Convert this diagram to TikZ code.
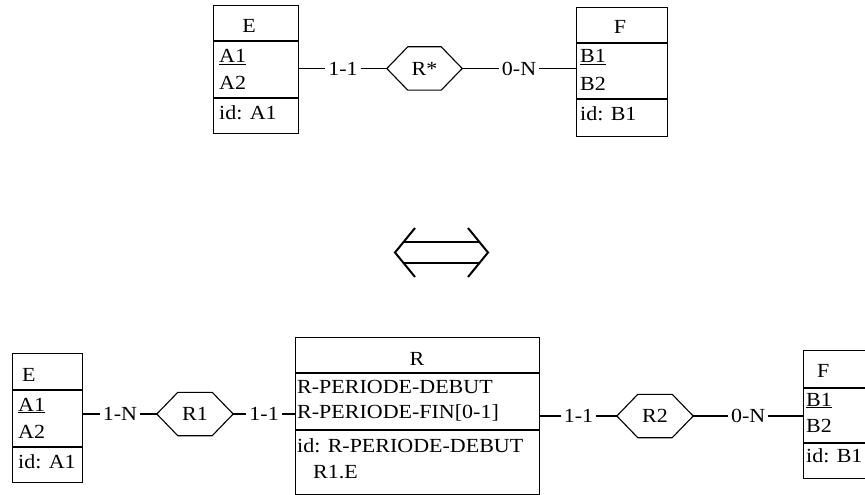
\documentclass[tikz,border=0pt]{standalone}
\usepackage{fontspec}
\setmainfont{Liberation Serif}[FakeStretch=1.1]
\usetikzlibrary{calc}

\tikzset{
  link/.style={line width=1.1pt},
  entity/.style={draw, line width=1.1pt, anchor=north west, inner sep=0pt},
  txt/.style={anchor=base west, inner sep=0pt},
  ctxt/.style={anchor=base, inner sep=0pt},
  relnode/.style={inner sep=0pt, minimum height=43pt},
  card/.style={fill=white, inner sep=3pt},
  equiv/.style={line width=2pt},
}

% hexagonal frame of a relationship node: #1 node name, #2 width of the slanted part
\newcommand\hexframe[2]{%
  \draw[link] (#1.west) -- ([xshift=#2]#1.north west) -- ([xshift=-#2]#1.north east)
    -- (#1.east) -- ([xshift=-#2]#1.south east) -- ([xshift=#2]#1.south west) -- cycle;}

\begin{document}
\begin{tikzpicture}[x=1pt, y=-1pt, font=\fontsize{20}{24}\selectfont]
\useasboundingbox (0,0) rectangle (865,495);

% ---------- conceptual schema: E --(R*)-- F ----------
\node[entity, minimum width=85pt, minimum height=128pt] (E1) at (213,5) {};
\draw[link] (213,41) -- (298,41);
\draw[link] (213,98) -- (298,98);
\node[ctxt] (E1n) at (249,33) {E};
\node[txt] (E1a) at (219,63) {\underline{A1}};
\node[txt] (E1b) at (219,89) {A2};
\node[txt] (E1i) at (219,119) {id: A1};

\node[entity, minimum width=91pt, minimum height=129pt] (F1) at (576,7) {};
\draw[link] (576,43) -- (667,43);
\draw[link] (576,99) -- (667,99);
\node[ctxt] (F1n) at (620,34) {F};
\node[txt] (F1a) at (580,63) {\underline{B1}};
\node[txt] (F1b) at (580,90) {B2};
\node[txt] (F1i) at (580,120) {id: B1};

\node[relnode, minimum width=75pt] (Rs) at (424.5,68.5) {R*};
\hexframe{Rs}{21pt}

\draw[link] (Rs.west -| E1.east) -- node[card] (c1) {1-1} (Rs.west);
\draw[link] (Rs.east) -- node[card] (c2) {0-N} (Rs.east -| F1.west);

% ---------- equivalence sign ----------
\coordinate (qL) at (395,252.5);
\coordinate (qR) at (488,252.5);
\draw[equiv] (415,228) -- (qL) -- (415,277);
\draw[equiv] (468,228) -- (qR) -- (468,277);
\draw[equiv] (403.6,242) -- (479.4,242);
\draw[equiv] (403.6,263) -- (479.4,263);

% ---------- transformed schema: E --(R1)-- R --(R2)-- F ----------
\node[entity, minimum width=70pt, minimum height=129pt] (E2) at (12,353) {};
\draw[link] (12,390) -- (82,390);
\draw[link] (12,447) -- (82,447);
\node[txt] (E2n) at (22,381) {E};
\node[txt] (E2a) at (18,411) {\underline{A1}};
\node[txt] (E2b) at (18,438) {A2};
\node[txt] (E2i) at (18,468) {id: A1};

\node[entity, minimum width=244pt, minimum height=157pt] (R) at (295,337) {};
\draw[link] (295,373) -- (539,373);
\draw[link] (295,430) -- (539,430);
\node[ctxt] (Rn) at (417,365) {R};
\node[txt] (Ra) at (297,393) {R-PERIODE-DEBUT};
\node[txt] (Rb) at (297,418) {R-PERIODE-FIN[0-1]};
\node[txt] (Ri) at (297,452) {id: R-PERIODE-DEBUT};
\node[txt] (Rj) at (313,478) {R1.E};

\node[entity, minimum width=90pt, minimum height=128pt] (F2) at (803,350) {};
\draw[link] (803,388) -- (893,388);
\draw[link] (803,443) -- (893,443);
\node[txt] (F2n) at (817,377) {F};
\node[txt] (F2a) at (806,406) {\underline{B1}};
\node[txt] (F2b) at (806,432) {B2};
\node[txt] (F2i) at (806,462) {id: B1};

\node[relnode, minimum width=76pt] (R1) at (195,414) {R1};
\hexframe{R1}{21pt}
\node[relnode, minimum width=76pt] (R2) at (655,416) {R2};
\hexframe{R2}{21pt}

\draw[link] (R1.west -| E2.east) -- node[card] (c3) {1-N} (R1.west);
\draw[link] (R1.east) -- node[card] (c4) {1-1} (R1.east -| R.west);
\draw[link] (R2.west -| R.east) -- node[card] (c5) {1-1} (R2.west);
\draw[link] (R2.east) -- node[card] (c6) {0-N} (R2.east -| F2.west);
\end{tikzpicture}
\end{document}
